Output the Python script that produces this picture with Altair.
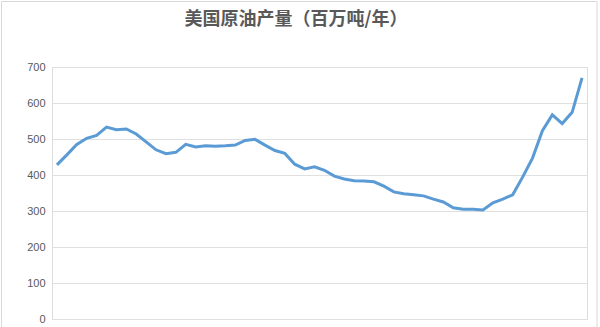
import altair as alt
import pandas as pd

# US crude oil production, million tonnes per year
years = list(range(1965, 2019))
output_mt = [
    428, 456, 485, 502, 510, 533, 526, 528, 514, 492,
    470, 459, 463, 485, 478, 481, 480, 481, 483, 496,
    499, 483, 468, 460, 430, 417, 423, 413, 397, 389,
    384, 383, 381, 369, 353, 348, 345, 342, 333, 325,
    309, 305, 305, 303, 323, 333, 345, 394, 447, 523,
    567, 543, 574, 670,
]
y_ticks = [0, 100, 200, 300, 400, 500, 600, 700]
title_text = "美国原油产量（百万吨/年）"

df = pd.DataFrame({"year": years, "output": output_mt})

PLOT_W, PLOT_H = 535, 252
PAD = {"left": 52, "top": 67, "right": 13, "bottom": 8}

line = alt.Chart(df).mark_line(color="#5b9bd5", strokeWidth=3).encode(
    x=alt.X("year:Q", axis=None,
            scale=alt.Scale(domain=[years[0] - 0.5, years[-1] + 0.5], nice=False, zero=False)),
    y=alt.Y("output:Q", title=None,
            scale=alt.Scale(domain=[0, 700], nice=False),
            axis=alt.Axis(values=y_ticks, domain=False, ticks=False, labelPadding=7,
                          labelFont="Liberation Sans", labelFontSize=11, labelColor="#595959",
                          gridColor="#e0e0e0", gridWidth=1)),
)

# thin frame around the whole chart
frame = alt.Chart(alt.Data(values=[{"k": 1}])).mark_rect(
    fill=None, stroke="#d9d9d9", strokeWidth=1
).encode(
    x=alt.value(-PAD["left"] + 1.5), x2=alt.value(PLOT_W + 10),
    y=alt.value(-PAD["top"] + 1.5), y2=alt.value(PLOT_H + 30),
)

# chart title, centred over the full canvas
title = alt.Chart(alt.Data(values=[{"t": title_text}])).mark_text(
    font="Noto Sans CJK SC", fontSize=18, fontWeight="bold", color="#595959",
    align="center", baseline="middle",
).encode(
    text="t:N",
    x=alt.value(296 - PAD["left"]),
    y=alt.value(20 - PAD["top"]),
)

chart = alt.layer(frame, line, title).properties(
    width=PLOT_W, height=PLOT_H,
    padding=PAD,
    autosize=alt.AutoSizeParams(type="none"),
).configure_view(stroke=None).configure(background="white")

chart.save("out.html", embed_options={"renderer": "svg", "actions": False})
